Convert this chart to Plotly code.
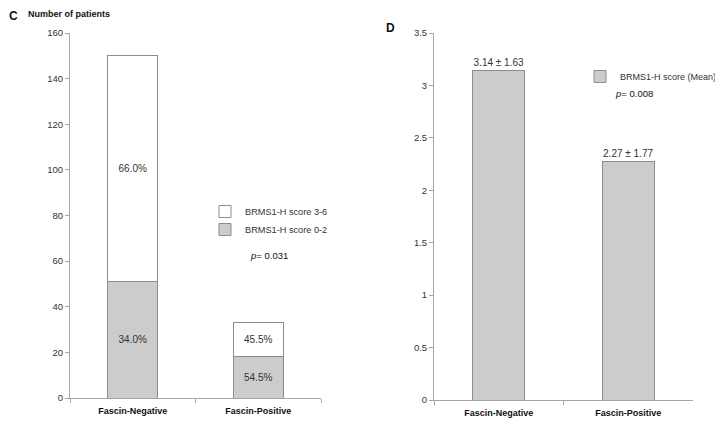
import plotly.graph_objects as go

categories = ["Fascin-Negative", "Fascin-Positive"]
score_0_2 = [51, 18]
score_3_6 = [99, 15]
pct_0_2 = ["34.0%", "54.5%"]
pct_3_6 = ["66.0%", "45.5%"]
mean_scores = [3.14, 2.27]
mean_labels = ["3.14 ± 1.63", "2.27 ± 1.77"]

W, H = 715, 423 - 8
def px(x):
    return x / W
def py(y):
    return 1 - y / H

FONT = "Liberation Sans, Arial, sans-serif"
GREY = "#cccccc"
EDGE = "#8c8c8c"
AXC = "#a6a6a6"
TXT = "#333333"

fig = go.Figure()
fig.add_trace(go.Bar(x=categories, y=score_0_2, name="BRMS1-H score 0-2",
                     marker=dict(color=GREY, line=dict(color=EDGE, width=1)),
                     text=pct_0_2, textposition="inside", insidetextanchor="middle",
                     textfont=dict(size=10, color=TXT, family=FONT),
                     width=0.4, xaxis="x", yaxis="y", legend="legend3"))
fig.add_trace(go.Bar(x=categories, y=score_3_6, name="BRMS1-H score 3-6",
                     marker=dict(color="white", line=dict(color=EDGE, width=1)),
                     text=pct_3_6, textposition="inside", insidetextanchor="middle",
                     textfont=dict(size=10, color=TXT, family=FONT),
                     width=0.4, xaxis="x", yaxis="y", legend="legend"))
fig.add_trace(go.Bar(x=categories, y=mean_scores, name="BRMS1-H score (Mean)",
                     marker=dict(color=GREY, line=dict(color=EDGE, width=1)),
                     text=mean_labels, textposition="outside", cliponaxis=False,
                     textfont=dict(size=10, color=TXT, family=FONT),
                     width=0.4, xaxis="x2", yaxis="y2", legend="legend2"))

axis_common = dict(showline=True, linecolor=AXC, linewidth=1, ticks="outside",
                   ticklen=4, tickcolor=AXC, showgrid=False, zeroline=False,
                   tickfont=dict(size=9.5, color=TXT, family=FONT))
xcat = dict(axis_common, type="category", tickson="boundaries", range=[-0.5, 1.5],
            ticklabelstandoff=4,
            tickfont=dict(size=9, color="#111111", family=FONT, weight="bold"))

leg_font = dict(size=9.2, color=TXT, family=FONT)
fig.update_layout(
    width=W, height=H, margin=dict(l=0, r=0, t=0, b=0, autoexpand=False),
    paper_bgcolor="white", plot_bgcolor="white",
    barmode="stack", bargap=0.6,
    font=dict(family=FONT, size=10, color=TXT),
    xaxis=dict(xcat, domain=[px(62), px(313)], anchor="y"),
    yaxis=dict(axis_common, domain=[py(390), py(25)], range=[0, 160], dtick=20, anchor="x"),
    xaxis2=dict(xcat, domain=[px(426), px(685)], anchor="y2"),
    yaxis2=dict(axis_common, domain=[py(392), py(25)], range=[0, 3.5], dtick=0.5, anchor="x2"),
    legend=dict(x=px(197), y=py(189), xanchor="left", yanchor="top",
                font=leg_font, itemwidth=30, bgcolor="rgba(0,0,0,0)"),
    legend3=dict(x=px(197), y=py(207), xanchor="left", yanchor="top",
                 font=leg_font, itemwidth=30, bgcolor="rgba(0,0,0,0)"),
    legend2=dict(x=px(572), y=py(54), xanchor="left", yanchor="top",
                 font=dict(size=9, color=TXT, family=FONT), itemwidth=30,
                 bgcolor="rgba(0,0,0,0)"),
    showlegend=True,
)

ann = [
    dict(text="<b>C</b>", x=0, y=8, size=12),
    dict(text="<b>Number of patients</b>", x=19, y=6, size=9),
    dict(text="<b>D</b>", x=377, y=19.5, size=12),
    dict(text="<i>p</i>= 0.031", x=241, y=247, size=9.5),
    dict(text="<i>p</i>= 0.008", x=606, y=85, size=9.5),
]
for a in ann:
    fig.add_annotation(text=a["text"], xref="paper", yref="paper",
                       x=px(a["x"]), y=py(a["y"]), xanchor="left", yanchor="middle",
                       showarrow=False, borderpad=0,
                       font=dict(size=a["size"], color="#111111", family=FONT))

fig.write_html("out.html")
